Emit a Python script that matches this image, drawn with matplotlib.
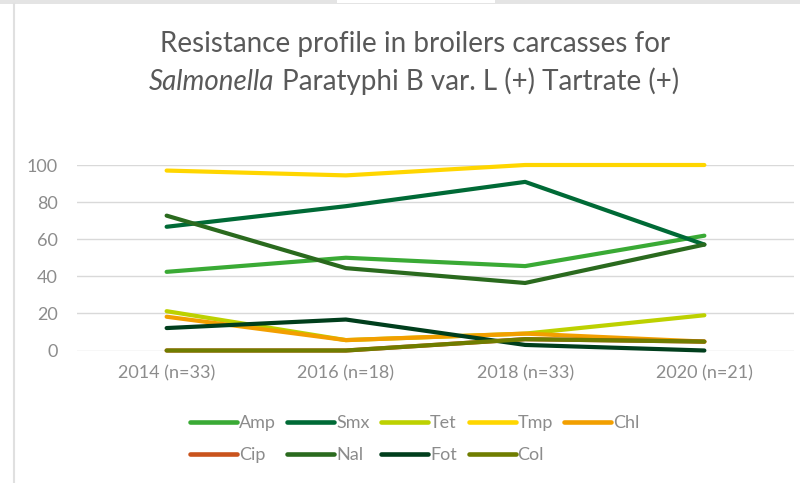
import matplotlib
matplotlib.use('Agg')
import matplotlib.pyplot as plt
from matplotlib.patches import Rectangle
from matplotlib.lines import Line2D

plt.rcParams['font.family'] = ['Lato', 'DejaVu Sans']

# 数据 (读自参考图)
categories = ['2014 (n=33)', '2016 (n=18)', '2018 (n=33)', '2020 (n=21)']
amp = [42.4, 50.0, 45.5, 61.9]
smx = [66.7, 77.8, 90.9, 57.1]
tet = [21.2, 5.6, 9.1, 19.0]
tmp = [97.0, 94.4, 100.0, 100.0]
chl = [18.2, 5.6, 9.1, 4.8]
cip = [0.0, 0.0, 6.1, 4.8]
nal = [72.7, 44.4, 36.4, 57.1]
fot = [12.1, 16.7, 3.0, 0.0]
col = [0.0, 0.0, 6.1, 4.8]

series = [
    ('Amp', amp, '#3aaa35'),
    ('Smx', smx, '#006a36'),
    ('Tet', tet, '#bdd100'),
    ('Tmp', tmp, '#ffd600'),
    ('Chl', chl, '#f29f00'),
    ('Cip', cip, '#c9531c'),
    ('Nal', nal, '#2a6a1e'),
    ('Fot', fot, '#003e1c'),
    ('Col', col, '#6f7d00'),
]

W, H = 800, 483
fig = plt.figure(figsize=(W / 100, H / 100), dpi=100)
ax = fig.add_axes([77 / W, (H - 350.5) / H, 717 / W, 185.5 / H])

x = list(range(len(categories)))
handles = {}
for name, vals, color in series:
    ln, = ax.plot(x, vals, color=color, lw=3.0, solid_capstyle='round',
                  solid_joinstyle='round', clip_on=False, label=name)
    handles[name] = ln

ax.set_xlim(-0.5, len(categories) - 0.5)
ax.set_ylim(0, 100)
ax.set_yticks([0, 20, 40, 60, 80, 100])
ax.set_xticks(x)
ax.set_xticklabels(categories)
ax.grid(True, axis='y', color='#d9d9d9', lw=1.0)
ax.set_axisbelow(True)
for s in ax.spines.values():
    s.set_visible(False)
ax.tick_params(axis='both', length=0, labelsize=13, colors='#8c8c8c')
ax.tick_params(axis='y', pad=14)
ax.tick_params(axis='x', pad=11)

# 图例 (按行排列, matplotlib 按列填充, 所以重新排序)
order = ['Amp', 'Cip', 'Smx', 'Nal', 'Tet', 'Fot', 'Tmp', 'Col', 'Chl']
leg = fig.legend([handles[n] for n in order], order, ncol=5,
                 loc='upper left', bbox_to_anchor=(190 / W, 1 - 415 / H),
                 frameon=False, fontsize=13, handlelength=2.6,
                 handletextpad=0.1, columnspacing=0.65, labelspacing=0.88,
                 borderpad=0, borderaxespad=0)
for t in leg.get_texts():
    t.set_color('#8c8c8c')
for h in leg.legend_handles:
    h.set_linewidth(3.3)
    h.set_solid_capstyle('round')

# 标题 (第二行部分斜体)
title_color = '#595959'
title_size = 20
fig.text(415 / W, 1 - 52 / H, 'Resistance profile in broilers carcasses for',
         ha='center', va='baseline', fontsize=title_size, color=title_color)
renderer = fig.canvas.get_renderer()
t_it = fig.text(0, 1 - 90 / H, 'Salmonella', style='italic', ha='left',
                va='baseline', fontsize=title_size, color=title_color)
t_rm = fig.text(0, 1 - 90 / H, ' Paratyphi B var. L (+) Tartrate (+)', ha='left',
                va='baseline', fontsize=title_size, color=title_color)
w_it = t_it.get_window_extent(renderer).width
w_rm = t_rm.get_window_extent(renderer).width
x0 = 414 - (w_it + w_rm) / 2
t_it.set_x(x0 / W)
t_rm.set_x((x0 + w_it) / W)

# 截图边框
fig.patches.append(Rectangle((0, 1 - 4 / H), 1, 4 / H, transform=fig.transFigure,
                             color='#e4e4e4', lw=0))
fig.patches.append(Rectangle((337 / W, 1 - 3 / H), 158 / W, 3 / H,
                             transform=fig.transFigure, color='white', lw=0))
fig.lines.append(Line2D([13.5 / W, 13.5 / W], [0, 1 - 4 / H], transform=fig.transFigure,
                        color='#e0e0e0', lw=1.5))

fig.savefig('out.png', dpi=100)
